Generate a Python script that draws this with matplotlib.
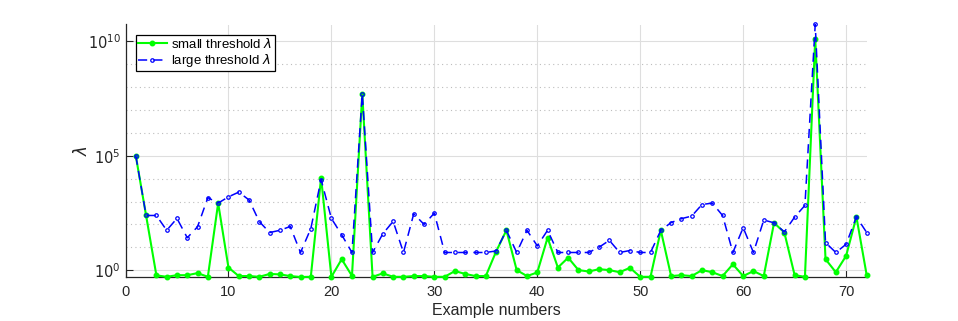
import matplotlib
matplotlib.use("Agg")
import matplotlib.pyplot as plt
import numpy as np
from matplotlib.ticker import FixedLocator, NullFormatter

plt.rcParams['font.family'] = ['Liberation Sans', 'DejaVu Sans']
plt.rcParams['mathtext.fontset'] = 'dejavusans'

example_numbers = list(range(1, 73))

small_threshold = [
    1e5, 245, 0.59, 0.51, 0.60, 0.60, 0.74, 0.51, 850, 1.3,
    0.55, 0.55, 0.51, 0.68, 0.65, 0.55, 0.50, 0.51, 11000, 0.51,
    3.0, 0.56, 5.2e7, 0.51, 0.72, 0.51, 0.51, 0.55, 0.55, 0.51,
    0.51, 0.91, 0.68, 0.55, 0.55, 6.5, 55, 1.0, 0.55, 0.79,
    26, 1.3, 3.5, 1.0, 0.87, 1.1, 1.0, 0.81, 1.26, 0.51,
    0.51, 55, 0.55, 0.60, 0.55, 1.0, 0.81, 0.55, 1.8, 0.55,
    0.91, 0.55, 117, 44, 0.60, 0.51, 1.3e10, 3.0, 0.81, 4.2,
    214, 0.60,
]

large_threshold = [
    1e5, 245, 245, 55, 182, 26, 79, 1480, 850, 1600,
    2570, 1170, 132, 44, 55, 81, 5.9, 65, 9100, 182,
    35, 5.9, 5.2e7, 5.9, 39, 135, 5.9, 290, 100, 310,
    5.9, 5.9, 5.9, 5.9, 5.9, 6.9, 55, 5.9, 55, 11.5,
    55, 5.9, 5.9, 5.9, 5.9, 10, 20, 5.9, 7.2, 5.9,
    5.9, 55, 120, 178, 230, 740, 850, 245, 5.9, 72,
    5.9, 155, 117, 47, 209, 676, 5.5e10, 16, 5.9, 13.5,
    214, 44,
]

x_ticks = [0, 10, 20, 30, 40, 50, 60, 70]
y_ticks = [1e0, 1e5, 1e10]
y_tick_labels = [r'$10^{0}$', r'$10^{5}$', r'$10^{10}$']

fig = plt.figure(figsize=(9.58, 3.21), dpi=100)
ax_left, ax_right = 125.5 / 958, 866.7 / 958
ax_bottom, ax_top = 1 - 277 / 321, 1 - 24.5 / 321
ax = fig.add_axes([ax_left, ax_bottom, ax_right - ax_left, ax_top - ax_bottom])

ax.plot(example_numbers, small_threshold, '-', color=(0, 1, 0), lw=1.5,
        marker='.', ms=6.5, clip_on=False, zorder=3,
        label=r'small threshold $\lambda$')
ax.plot(example_numbers, large_threshold, '--', color=(0, 0, 1), lw=1.1,
        dashes=(6, 4), marker='o', ms=2.5, mfc='none', mew=0.9, clip_on=False,
        zorder=4, label=r'large threshold $\lambda$')

ax.set_yscale('log')
all_vals = small_threshold + large_threshold
ax.set_ylim(min(all_vals), max(all_vals))
ax.set_xlim(0, 72)

ax.set_xticks(x_ticks)
ax.set_yticks(y_ticks)
ax.set_yticklabels(y_tick_labels)
ax.yaxis.set_minor_locator(FixedLocator([10.0 ** k for k in range(0, 11) if k not in (0, 5, 10)]))
ax.yaxis.set_minor_formatter(NullFormatter())

ax.grid(True, which='major', color='#dedede', lw=0.8, ls='-')
ax.grid(True, which='minor', axis='y', color='#bdbdbd', lw=0.8, ls=(0, (1, 3)))
ax.set_axisbelow(True)

for s in ('top', 'right'):
    ax.spines[s].set_visible(False)
for s in ('left', 'bottom'):
    ax.spines[s].set_color('#262626')
    ax.spines[s].set_linewidth(0.9)

ax.tick_params(which='major', direction='in', length=5, width=0.8,
               color='#262626', labelcolor='#262626', labelsize=10.5)
ax.tick_params(which='minor', length=0)
ax.tick_params(axis='x', pad=6)

ax.set_xlabel('Example numbers', fontsize=11.5, color='#262626', labelpad=3)
ax.set_ylabel(r'$\lambda$', fontsize=12, color='#262626', labelpad=-2)

leg = ax.legend(loc='upper left', bbox_to_anchor=(10.2 / 741.2, 1 - 10.5 / 252.5),
                borderaxespad=0, fancybox=False, framealpha=1, edgecolor='black',
                fontsize=9.5, handlelength=2.2, handletextpad=0.35,
                borderpad=0.15, labelspacing=0.1)
leg.get_frame().set_linewidth(0.9)

fig.savefig('out.png', dpi=100)
